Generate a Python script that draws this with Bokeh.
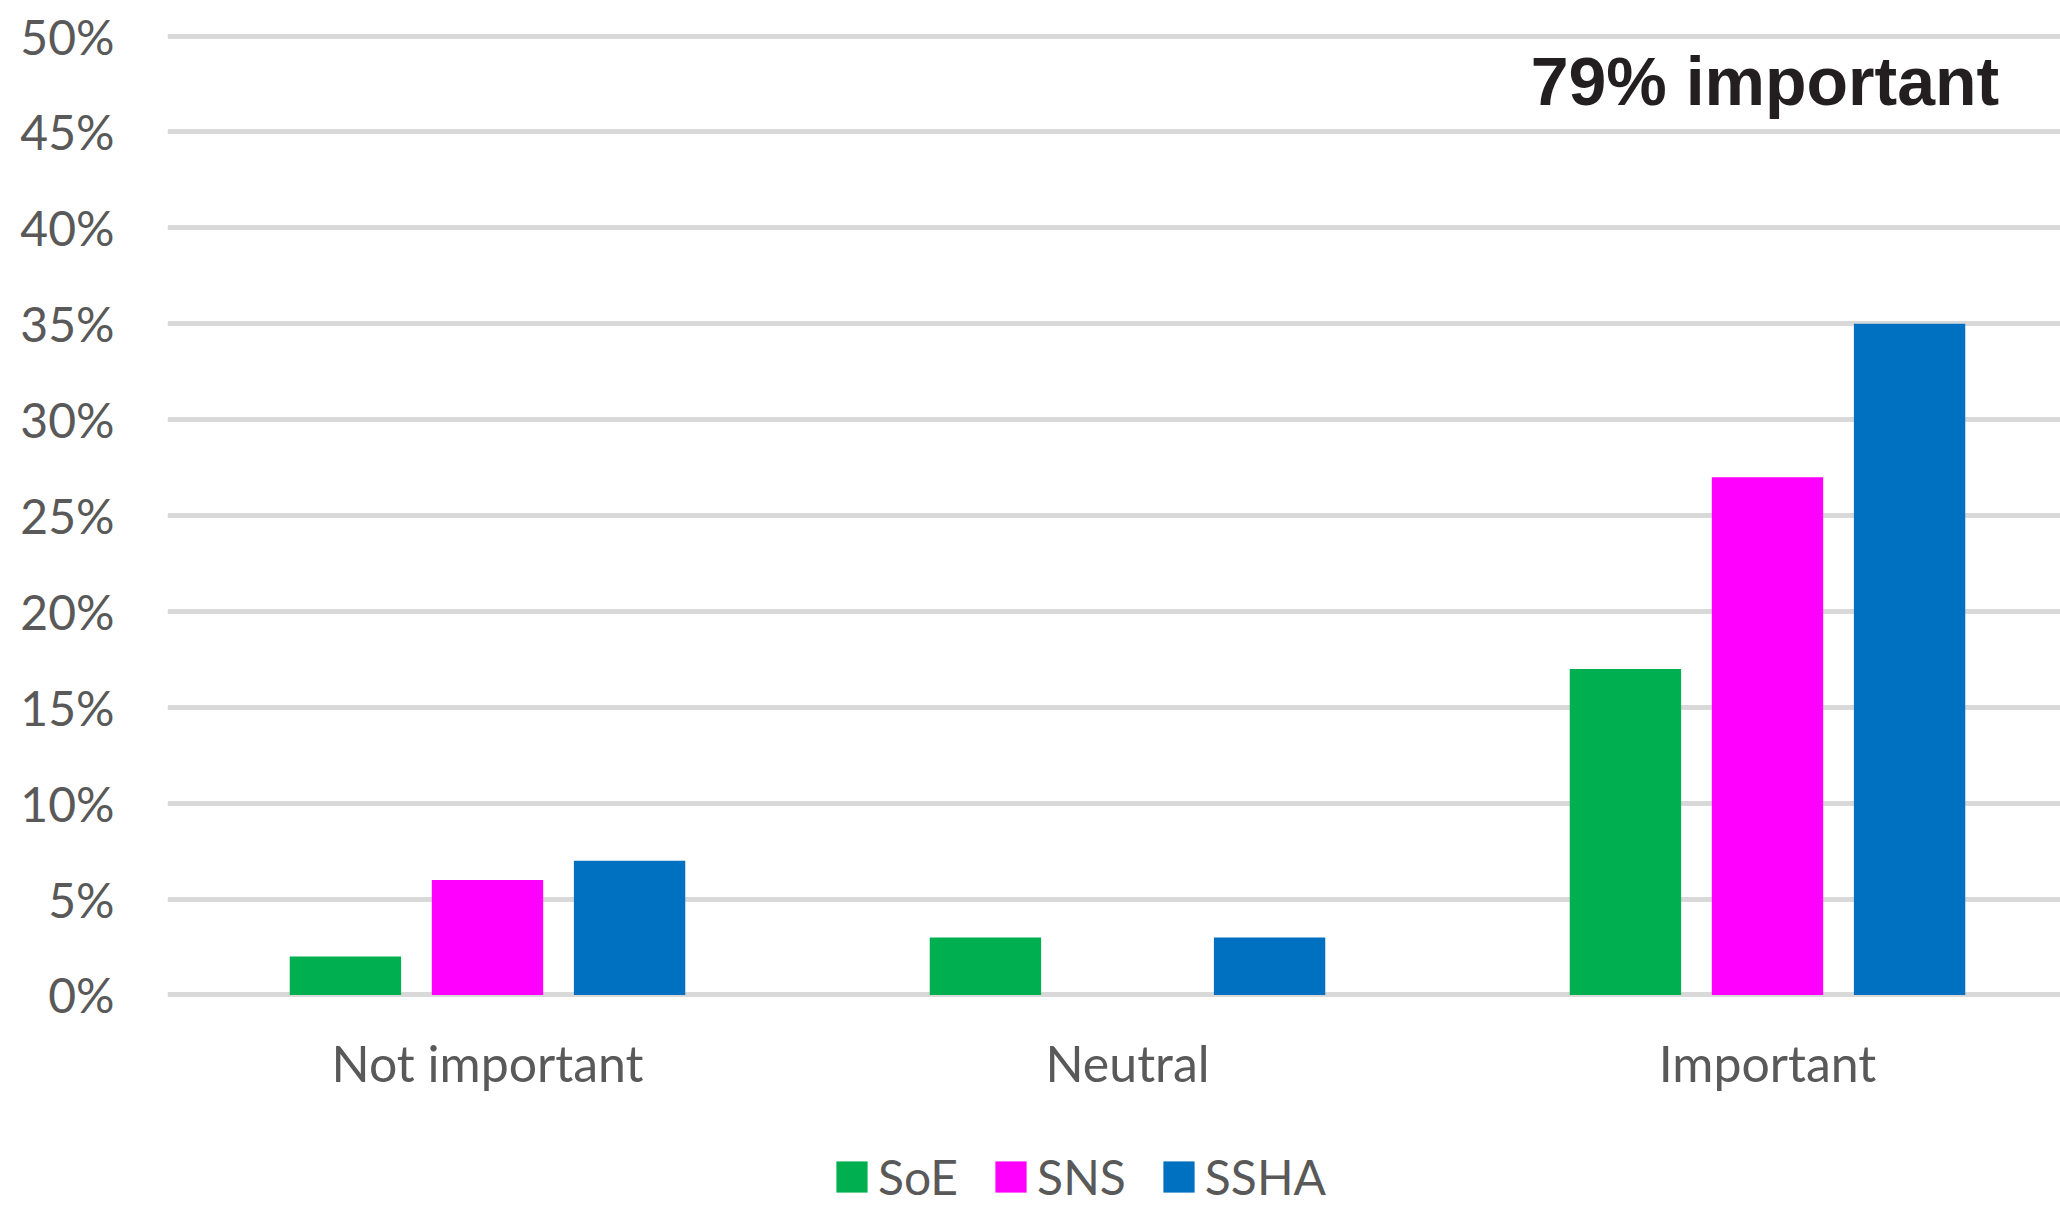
from bokeh.plotting import figure
from bokeh.models import Range1d, FixedTicker, Legend, LegendItem, Label
from bokeh.core.properties import value
from bokeh.embed import file_html
from bokeh.resources import INLINE

# ---- data ----
categories = ["Not important", "Neutral", "Important"]
series = ["SoE", "SNS", "SSHA"]
soe = [2, 3, 17]
sns = [6, 0, 27]
ssha = [7, 3, 35]
series_values = [soe, sns, ssha]
colors = ["#00B050", "#FF00FF", "#0070C0"]
y_ticks = [0, 5, 10, 15, 20, 25, 30, 35, 40, 45, 50]
y_tick_labels = ["0%", "5%", "10%", "15%", "20%", "25%", "30%", "35%", "40%", "45%", "50%"]
annotation_text = "79% important"

# ---- styling / layout ----
TEXT_COLOR = "#595959"
GRID_COLOR = "#D9D9D9"
FONT = "Lato"

W, H = 2060, 1206
LEFT, TOP = 167, 20
cat_px = 640.0
frame_w = W - LEFT
x_end = -0.5 + frame_w / cat_px
Y_START, Y_END = -11.03, 50.81      # frame reaches the canvas bottom (room for labels + legend)
CAT_LABEL_Y = -3.56                 # category label row, below the 0% line

p = figure(width=W, height=H, x_range=Range1d(-0.5, x_end), y_range=Range1d(Y_START, Y_END),
           x_axis_location=None, output_backend="svg", toolbar_location=None)
p.min_border_left = LEFT
p.min_border_right = 0
p.min_border_top = TOP
p.min_border_bottom = 0
p.outline_line_color = None
p.background_fill_color = "white"
p.border_fill_color = "white"

# grid
p.xgrid.visible = False
p.ygrid.ticker = FixedTicker(ticks=y_ticks)
p.ygrid.grid_line_color = GRID_COLOR
p.ygrid.grid_line_width = 5

# y axis
p.yaxis.ticker = FixedTicker(ticks=y_ticks)
p.yaxis.major_label_overrides = {t: l for t, l in zip(y_ticks, y_tick_labels)}
p.yaxis.axis_line_color = None
p.yaxis.major_tick_line_color = None
p.yaxis.minor_tick_line_color = None
p.yaxis.major_tick_out = 0
p.yaxis.major_label_standoff = 53
p.yaxis.major_label_text_font = FONT
p.yaxis.major_label_text_font_size = "48px"
p.yaxis.major_label_text_color = TEXT_COLOR

# category labels
cat_pos = list(range(len(categories)))
p.text(x=cat_pos, y=[CAT_LABEL_Y] * len(cat_pos), text=categories,
       text_align="center", text_baseline="middle",
       text_font=value(FONT), text_font_size="50px", text_color=TEXT_COLOR)

# bars
offsets = [-0.222, 0.0, 0.222]
bar_w = 0.174
items = []
for name, vals, col, off in zip(series, series_values, colors, offsets):
    r = p.vbar(x=[c + off for c in cat_pos], top=vals, bottom=0, width=bar_w,
               fill_color=col, line_color=None)
    items.append(LegendItem(label=name, renderers=[r]))

legend = Legend(items=items, orientation="horizontal", location=(665, 1),
                glyph_width=39, glyph_height=39, label_standoff=7, spacing=33,
                padding=0, margin=0, border_line_color=None, background_fill_alpha=0,
                label_text_font=FONT, label_text_font_size="48px",
                label_text_color=TEXT_COLOR)
p.add_layout(legend, "center")

lab = Label(x=2.362, y=47.65, text=annotation_text, text_align="right",
            text_baseline="alphabetic", text_font="Liberation Sans",
            text_font_style="bold", text_font_size="68px", text_color="#231F20")
p.add_layout(lab)

open("out.html", "w").write(file_html(p, INLINE))
